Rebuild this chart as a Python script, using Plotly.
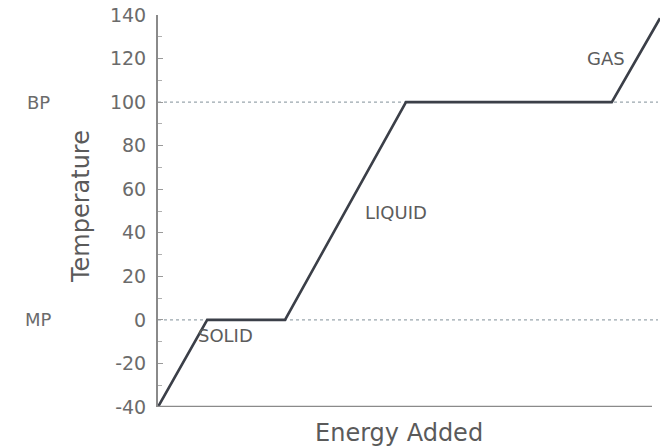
import plotly.graph_objects as go

# Heating curve data
energy = [0, 9.8, 25.3, 49.4, 90.4, 100]
temperature = [-40, 0, 0, 100, 100, 138.5]

y_ticks = [-40, -20, 0, 20, 40, 60, 80, 100, 120, 140]
y_tick_text = ["-40", "-20", "0", "20", "40", "60", "80", "100", "120", "140"]
ref_lines = [0, 100]
ref_labels = ["MP", "BP"]
phase_labels = ["SOLID", "LIQUID", "GAS"]
phase_x = [13.5, 47.4, 89.3]
phase_y = [-7, 49.5, 120]

FONT = "DejaVu Sans"
GRAY = "#6b6b6b"

fig = go.Figure()

for yv in ref_lines:
    fig.add_trace(go.Scatter(x=[0, 99.6], y=[yv, yv], mode="lines",
                             line=dict(color="#9aa6ad", width=1.2, dash="dot"),
                             hoverinfo="skip", showlegend=False))

fig.add_trace(go.Scatter(x=energy, y=temperature, mode="lines",
                         line=dict(color="#3b3f48", width=2.6),
                         showlegend=False))

annotations = []
for lbl, yv in zip(ref_labels, ref_lines):
    annotations.append(dict(x=0, xref="paper", xshift=-120, y=yv, yref="y",
                            text=lbl, showarrow=False, xanchor="center",
                            font=dict(family=FONT, size=18, color=GRAY)))
for lbl, xv, yv in zip(phase_labels, phase_x, phase_y):
    annotations.append(dict(x=xv, y=yv, text=lbl, showarrow=False,
                            font=dict(family=FONT, size=18, color="#5c5c5c")))
annotations.append(dict(x=0.48, xref="paper", y=0, yref="paper", yshift=-26,
                        text="Energy Added", showarrow=False, yanchor="middle",
                        xanchor="center",
                        font=dict(family=FONT, size=24, color="#5a5a5a")))
annotations.append(dict(x=0, xref="paper", xshift=-77, y=0.51, yref="paper",
                        text="Temperature", textangle=-90, showarrow=False,
                        xanchor="center", yanchor="middle",
                        font=dict(family=FONT, size=24, color="#5a5a5a")))

fig.update_layout(
    width=668, height=448,
    margin=dict(l=158, r=8, t=15, b=41),
    paper_bgcolor="white", plot_bgcolor="white",
    font=dict(family=FONT, color=GRAY),
    annotations=annotations,
    xaxis=dict(range=[0, 100], showgrid=False, zeroline=False,
               showticklabels=False, ticks="", automargin=False,
               showline=False),
    yaxis=dict(range=[-40, 140], tickvals=y_ticks, ticktext=y_tick_text,
               showgrid=False, zeroline=False, automargin=False,
               showline=True, linecolor="#8a8a8a", linewidth=2,
               ticks="inside", ticklen=5, tickcolor="#9a9a9a", tickwidth=1,
               ticklabelstandoff=6,
               minor=dict(dtick=10, ticks="inside", ticklen=4, tickcolor="#b0b0b0"),
               tickfont=dict(size=19, color=GRAY)),
)

fig.add_shape(type="line", xref="x", yref="y", x0=0, x1=98.4, y0=-40, y1=-40,
              line=dict(color="#8a8a8a", width=2.5))

fig.write_html("out.html", config={"displayModeBar": False},
               post_script="document.body.style.margin='0';document.body.style.overflow='hidden';")
